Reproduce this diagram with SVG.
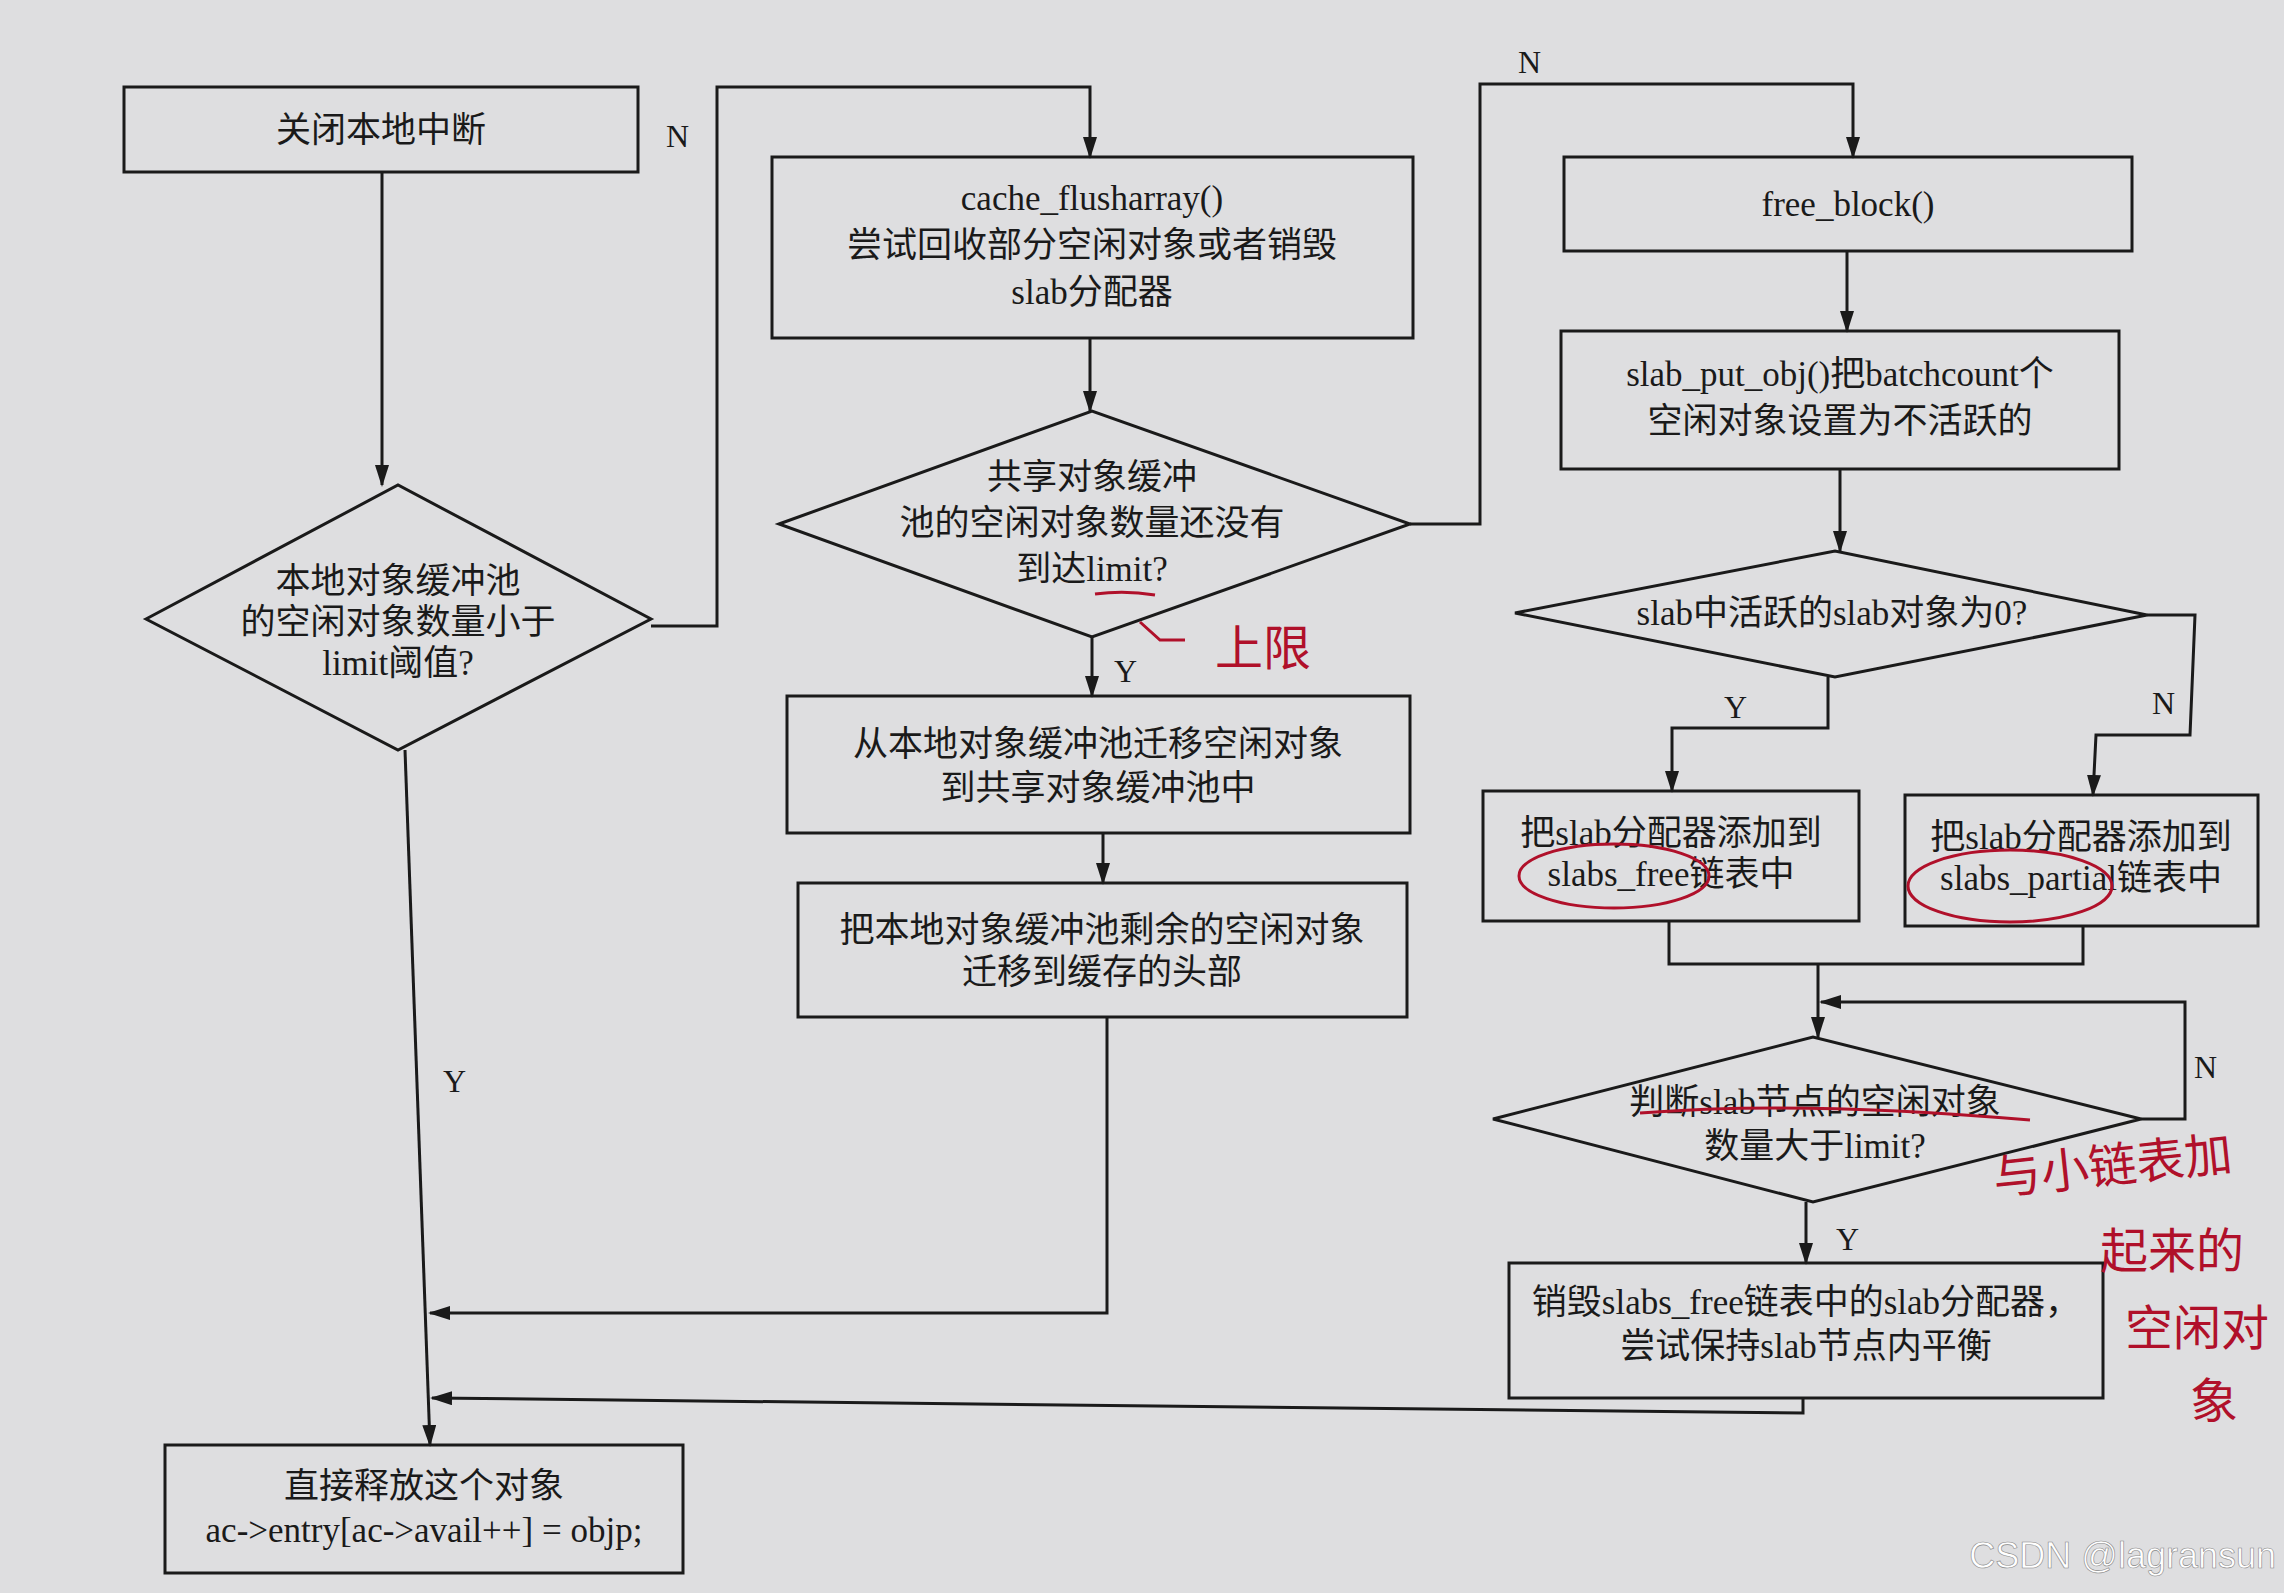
<svg xmlns="http://www.w3.org/2000/svg" width="2284" height="1593" viewBox="0 0 2284 1593">
<style>
.n{fill:none;stroke:#1a1a1a;stroke-width:3}
.c{fill:none;stroke:#1a1a1a;stroke-width:3;marker-end:url(#a)}
.t{font-family:"Liberation Serif","Noto Sans CJK SC",serif;font-size:35px;fill:#1a1a1a;text-anchor:middle}
.l{font-family:"Liberation Serif",serif;font-size:32px;fill:#1a1a1a}
.r{fill:none;stroke:#b0102a;stroke-width:3}
.h{font-family:"Noto Sans CJK SC",sans-serif;fill:#b0102a;font-size:48px}
</style>
<defs><marker id="a" markerWidth="22" markerHeight="14" refX="20" refY="7" orient="auto" markerUnits="userSpaceOnUse" viewBox="0 0 22 14"><path d="M0,0 L22,7 L0,14 Z" fill="#1a1a1a"/></marker></defs>
<rect width="2284" height="1593" fill="#dedee0"/>
<g id="n1"><rect class="n" x="124" y="87" width="514" height="85"/><text class="t" x="381" y="142">关闭本地中断</text></g>
<g id="n2"><polygon class="n" points="146,619 398,485 651,619 398,750"/><text class="t" x="398" y="593">本地对象缓冲池</text><text class="t" x="398" y="634">的空闲对象数量小于</text><text class="t" x="398" y="675">limit阈值?</text></g>
<g id="n3"><rect class="n" x="772" y="157" width="641" height="181"/><text class="t" x="1092" y="210">cache_flusharray()</text><text class="t" x="1092" y="257">尝试回收部分空闲对象或者销毁</text><text class="t" x="1092" y="304">slab分配器</text></g>
<g id="n4"><polygon class="n" points="779,524 1092,411 1410,524 1092,637"/><text class="t" x="1092" y="489">共享对象缓冲</text><text class="t" x="1092" y="535">池的空闲对象数量还没有</text><text class="t" x="1092" y="581">到达limit?</text></g>
<g id="n5"><rect class="n" x="787" y="696" width="623" height="137"/><text class="t" x="1098" y="756">从本地对象缓冲池迁移空闲对象</text><text class="t" x="1098" y="800">到共享对象缓冲池中</text></g>
<g id="n6"><rect class="n" x="798" y="883" width="609" height="134"/><text class="t" x="1102" y="942">把本地对象缓冲池剩余的空闲对象</text><text class="t" x="1102" y="984">迁移到缓存的头部</text></g>
<g id="n7"><rect class="n" x="165" y="1445" width="518" height="128"/><text class="t" x="424" y="1498">直接释放这个对象</text><text class="t" x="424" y="1542">ac-&gt;entry[ac-&gt;avail++] = objp;</text></g>
<g id="n8"><rect class="n" x="1564" y="157" width="568" height="94"/><text class="t" x="1848" y="216">free_block()</text></g>
<g id="n9"><rect class="n" x="1561" y="331" width="558" height="138"/><text class="t" x="1840" y="386">slab_put_obj()把batchcount个</text><text class="t" x="1840" y="433">空闲对象设置为不活跃的</text></g>
<g id="n10"><polygon class="n" points="1515,613 1835,551 2147,615 1835,677"/><text class="t" x="1832" y="625">slab中活跃的slab对象为0?</text></g>
<g id="n11"><rect class="n" x="1483" y="791" width="376" height="130"/><text class="t" x="1671" y="845">把slab分配器添加到</text><text class="t" x="1671" y="886">slabs_free链表中</text></g>
<g id="n12"><rect class="n" x="1905" y="795" width="353" height="131"/><text class="t" x="2081" y="849">把slab分配器添加到</text><text class="t" x="2081" y="890">slabs_partial链表中</text></g>
<g id="n13"><polygon class="n" points="1493,1119 1813,1037 2141,1119 1813,1202"/><text class="t" x="1815" y="1114">判断slab节点的空闲对象</text><text class="t" x="1815" y="1158">数量大于limit?</text></g>
<g id="n14"><rect class="n" x="1509" y="1263" width="594" height="135"/><text class="t" x="1806" y="1314">销毁slabs_free链表中的slab分配器，</text><text class="t" x="1806" y="1358">尝试保持slab节点内平衡</text></g>
<g id="connectors">
<path class="c" d="M382,172 V485"/>
<path class="c" d="M651,626 H717 V87 H1090 V157"/>
<path class="c" d="M1090,338 V411"/>
<path class="c" d="M1410,524 H1480 V84 H1853 V157"/>
<path class="c" d="M1092,637 V696"/>
<path class="c" d="M1103,833 V883"/>
<path class="c" d="M1107,1017 V1313 H430"/>
<path class="c" d="M405,750 L430,1445"/>
<path class="c" d="M1847,251 V331"/>
<path class="c" d="M1840,469 V551"/>
<path class="c" d="M1828,677 V728 H1672 V791"/>
<path class="c" d="M2147,615 H2195 L2190,735 H2096 L2093,795"/>
<path class="n" d="M1669,921 V964 H2083 V926"/>
<path class="c" d="M1818,964 V1037"/>
<path class="c" d="M2141,1119 H2185 V1002 H1821"/>
<path class="c" d="M1806,1202 V1263"/>
<path class="c" d="M1803,1398 V1413 L432,1398"/>
<text class="l" x="666" y="147">N</text>
<text class="l" x="1518" y="73">N</text>
<text class="l" x="1114" y="682">Y</text>
<text class="l" x="443" y="1092">Y</text>
<text class="l" x="1724" y="718">Y</text>
<text class="l" x="2152" y="714">N</text>
<text class="l" x="2194" y="1078">N</text>
<text class="l" x="1836" y="1250">Y</text>
</g>
<g id="notes">
<path class="r" d="M1095,594 Q1125,590 1155,595"/>
<path class="r" d="M1140,622 L1160,640 H1185"/>
<text class="h" x="1215" y="665">上限</text>
<ellipse class="r" cx="1614" cy="876" rx="95" ry="32"/>
<ellipse class="r" cx="2010" cy="886" rx="102" ry="36"/>
<path class="r" d="M1640,1113 Q1800,1100 2030,1120"/>
<text class="h" x="1995" y="1195" transform="rotate(-6 1995 1195)">与小链表加</text>
<text class="h" x="2100" y="1268">起来的</text>
<text class="h" x="2125" y="1345">空闲对</text>
<text class="h" x="2190" y="1418">象</text>
<text x="2276" y="1568" text-anchor="end" font-family="Liberation Sans,sans-serif" font-size="36" fill="#ffffff" stroke="#888" stroke-width="0.6">CSDN @lagransun</text>
</g>
</svg>
